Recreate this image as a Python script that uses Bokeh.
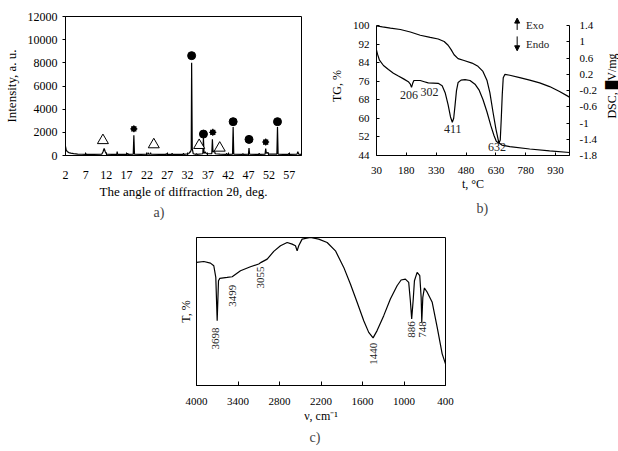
import math
from bokeh.plotting import figure
from bokeh.layouts import column, row
from bokeh.models import (Range1d, LinearAxis, FixedTicker, Title, Arrow,
                          NormalHead, CustomJSTickFormatter)
from bokeh.embed import file_html
from bokeh.resources import INLINE
from bokeh.core.properties import value

FONT = "Liberation Serif"

# ---------------- a) XRD data ----------------
xrd_angle = [2.0, 2.15, 2.4, 2.8, 3.3, 4.0, 5.0, 6.0,
             6.9, 7.0, 7.1, 9.0,
             10.9, 11.2, 11.5, 11.8, 12.1, 13.5,
             14.6, 14.7, 14.8, 17.2, 17.3, 17.4,
             18.65, 18.8, 18.95, 20.5,
             22.2, 22.3, 22.45, 22.8, 22.9, 23.0, 25.0,
             26.7, 26.8, 26.9, 28.1, 28.2, 28.3, 30.9, 31.0, 31.1,
             32.3, 32.5, 32.7, 32.9, 33.0, 33.15, 33.4,
             34.1, 34.2, 34.3,
             35.75, 35.9, 36.05, 36.4, 36.6,
             37.95, 38.1, 38.25, 38.6, 38.8, 40.0,
             41.5, 41.6, 41.7, 43.05, 43.2, 43.35,
             45.5, 45.6, 45.7, 46.95, 47.1, 47.25,
             49.5, 49.6, 49.7, 51.05, 51.2, 51.35, 51.7, 51.9,
             53.95, 54.1, 54.25, 55.5, 56.8, 56.9, 57.0,
             58.9, 59.1, 59.3, 60.0]
xrd_intensity = [780, 520, 350, 250, 200, 160, 120, 110,
                 105, 180, 105, 100,
                 110, 300, 600, 300, 120, 100,
                 105, 330, 105, 100, 200, 100,
                 120, 1750, 120, 100,
                 110, 250, 110, 110, 250, 110, 100,
                 100, 180, 100, 100, 200, 100, 100, 200, 100,
                 150, 300, 300, 500, 8000, 600, 150,
                 100, 180, 100,
                 150, 1500, 200, 300, 150,
                 150, 1400, 300, 400, 150, 120,
                 100, 200, 100, 120, 2450, 120,
                 100, 180, 100, 110, 650, 110,
                 100, 200, 100, 120, 600, 200, 250, 120,
                 120, 2450, 120, 100, 100, 200, 100,
                 120, 330, 120, 100]
circle_angle = [33.0, 35.9, 43.2, 47.1, 54.1]
circle_level = [8620, 1850, 2920, 1390, 2920]
star_angle = [18.8, 38.2, 51.2]
star_level = [2300, 2000, 1160]
tri_angle = [11.2, 23.7, 34.85, 39.9]
tri_level = [1300, 940, 880, 650]
xrd_xticks = [2, 7, 12, 17, 22, 27, 32, 37, 42, 47, 52, 57]
xrd_yticks = [0, 2000, 4000, 6000, 8000, 10000, 12000]

# ---------------- b) TG / DSC data ----------------
tg_temp = [30, 60, 100, 150, 200, 250, 300, 340, 370, 390, 405, 420, 440,
           470, 510, 540, 565, 585, 600, 615, 630, 645, 660, 700, 800, 900, 1000]
tg_mass = [99.9, 99.5, 99.0, 98.4, 97.3, 95.9, 95.0, 94.3, 93.2, 91.6, 89.7,
           87.5, 85.8, 85.0, 83.9, 82.5, 80.3, 76.5, 71.0, 63.0, 55.5, 49.5,
           48.5, 47.8, 46.8, 46.0, 45.3]
dsc_temp = [30, 35, 45, 65, 90, 115, 140, 166, 190, 200, 206, 212, 218, 250,
            270, 290, 340, 360, 375, 390, 402, 411, 418, 425, 432, 440, 455,
            475, 500, 525, 545, 565, 585, 605, 620, 632, 645, 652, 657, 662,
            667, 675, 700, 750, 800, 850, 900, 950, 1000]
dsc_signal = [0.80, 0.70, 0.55, 0.42, 0.32, 0.23, 0.16, 0.09, 0.02, -0.04,
              -0.12, -0.02, 0.05, 0.05, 0.02, -0.01, -0.02, -0.08, -0.25,
              -0.55, -0.85, -0.98, -0.88, -0.55, -0.20, 0.0, 0.06, 0.07, 0.05,
              -0.04, -0.18, -0.42, -0.72, -1.07, -1.30, -1.45, -1.50, -1.42,
              -0.90, -0.30, 0.12, 0.20, 0.18, 0.12, 0.06, -0.01, -0.10, -0.22,
              -0.36]
peak_labels_b = ["206", "302", "411", "632"]
peak_label_t = [193, 296, 413, 636]
peak_label_dsc = [-0.30, -0.23, -1.14, -1.58]
tg_ticks = [44, 52, 60, 68, 76, 84, 92, 100]
dsc_ticks = [-1.8, -1.4, -1.0, -0.6, -0.2, 0.2, 0.6, 1.0, 1.4]
temp_ticks = [30, 180, 330, 480, 630, 780, 930]

# ---------------- c) IR data ----------------
ir_wavenumber = [4000, 3894, 3798, 3750, 3721, 3701, 3682, 3663, 3557, 3484,
                 3364, 3220, 3100, 3065, 2978, 2883, 2786, 2689, 2617, 2569,
                 2545, 2522, 2473, 2353, 2233, 2111, 1991, 1871, 1775, 1678,
                 1582, 1510, 1447, 1389, 1293, 1197, 1100, 1042, 980, 932,
                 908, 889, 868, 849, 810, 772, 752, 743, 728, 705, 663, 592,
                 520, 448, 400]
ir_transmittance = [83.2, 83.8, 82.7, 80.9, 73.0, 43.8, 70.8, 72.4, 73.0, 73.5,
                    77.5, 80.2, 82.1, 83.2, 85.4, 90.6, 94.4, 96.6, 95.5, 94.4,
                    91.0, 94.4, 98.9, 100.0, 98.9, 96.6, 91.0, 79.8, 68.6, 56.2,
                    43.8, 35.9, 32.2, 37.1, 47.2, 58.5, 67.4, 71.3, 71.9, 69.7,
                    57.3, 45.0, 57.3, 70.8, 76.4, 74.2, 59.5, 42.7, 59.5, 65.9,
                    62.9, 56.2, 39.3, 21.4, 14.6]
ir_labels = ["3698", "3499", "3055", "1440", "886", "748"]
ir_label_x = [3725, 3484, 3075, 1447, 893, 738]
ir_label_y = [31.7, 60.7, 73.0, 21.4, 37.8, 37.8]
ir_ticks = [4000, 3400, 2800, 2200, 1600, 1000, 400]


def style_axis(ax, tick_size, label_size, tin=0, tout=0, standoff=5):
    ax.axis_line_color = "black"
    ax.major_tick_line_color = "black"
    ax.minor_tick_line_color = None
    ax.major_tick_in = tin
    ax.major_tick_out = tout
    ax.major_label_standoff = standoff
    ax.major_label_text_font = FONT
    ax.major_label_text_font_size = tick_size
    ax.major_label_text_color = "black"
    ax.axis_label_text_font = FONT
    ax.axis_label_text_font_size = label_size
    ax.axis_label_text_font_style = "normal"
    ax.axis_label_text_color = "black"


def caption(p, text, offset, standoff):
    p.add_layout(Title(text=text, align="left", offset=offset,
                       text_font=FONT, text_font_size="14px",
                       text_font_style="normal", standoff=standoff), "below")


# ---------------- panel a ----------------
pa = figure(width=310, height=220, x_range=Range1d(2, 60), y_range=Range1d(0, 12000),
            output_backend="svg", toolbar_location=None,
            min_border_left=61, min_border_right=9, min_border_top=16, min_border_bottom=63)
pa.grid.visible = False
pa.outline_line_color = "black"
pa.line(xrd_angle, xrd_intensity, color="black", line_width=1.2)
pa.scatter(circle_angle, circle_level, marker="circle", size=8, color="black")
pa.scatter(star_angle, star_level, marker="asterisk", size=7, line_color="black", line_width=1.1)
pa.scatter(star_angle, star_level, marker="circle", size=5, color="black")
pa.scatter(tri_angle, tri_level, marker="triangle", size=11, fill_color="white",
           line_color="black", line_width=1)
pa.xaxis.ticker = FixedTicker(ticks=xrd_xticks)
pa.yaxis.ticker = FixedTicker(ticks=xrd_yticks)
pa.xaxis.axis_label = "The angle of diffraction 2θ, deg."
pa.yaxis.axis_label = "Intensity, a. u."
style_axis(pa.xaxis[0], "12px", "13px", tin=3, tout=0, standoff=15)
style_axis(pa.yaxis[0], "12px", "13px", tin=0, tout=3, standoff=5)
pa.xaxis.axis_label_standoff = 2
pa.yaxis.axis_label_standoff = 6
caption(pa, "a)", 88, 2)

# ---------------- panel b ----------------
pb = figure(width=294, height=220, x_range=Range1d(30, 1000), y_range=Range1d(44, 104),
            output_backend="svg", toolbar_location=None,
            min_border_left=66, min_border_right=35, min_border_top=0, min_border_bottom=65)
pb.grid.visible = False
pb.outline_line_color = None
pb.extra_y_ranges = {"dsc": Range1d(-1.8, 1.4 + 4 * 3.2 / 56)}
pb.line(tg_temp, tg_mass, color="black", line_width=1.2)
pb.line(dsc_temp, dsc_signal, color="black", line_width=1.2, y_range_name="dsc")
pb.text(x=peak_label_t, y=peak_label_dsc, text=peak_labels_b, y_range_name="dsc",
        text_font=value(FONT), text_font_size="12px", text_align="center",
        text_baseline="middle", text_color="#222222")
pb.xaxis.ticker = FixedTicker(ticks=temp_ticks)
pb.yaxis.ticker = FixedTicker(ticks=tg_ticks)
pb.yaxis.bounds = (44, 100)
pb.xaxis.axis_label = "t, °C"
pb.yaxis.axis_label = "TG, %"
style_axis(pb.xaxis[0], "11px", "12px", tin=3, standoff=11)
style_axis(pb.yaxis[0], "11px", "12px", tin=3, standoff=7)
pb.xaxis.axis_label_standoff = 0
pb.yaxis.axis_label_standoff = 6
dsc_axis = LinearAxis(y_range_name="dsc", ticker=FixedTicker(ticks=dsc_ticks),
                      bounds=(-1.8, 1.4),
                      formatter=CustomJSTickFormatter(code="return tick.toFixed(1).replace(/\\.0$/, '');"))
style_axis(dsc_axis, "11px", "12px", tin=3, standoff=10)
pb.add_layout(dsc_axis, "right")
# Exo / Endo marks
pb.add_layout(Arrow(end=NormalHead(size=5, fill_color="black", line_color="black"),
                    x_start=737, y_start=98.2, x_end=737, y_end=103.3,
                    line_width=1, line_color="black"))
pb.add_layout(Arrow(end=NormalHead(size=5, fill_color="black", line_color="black"),
                    x_start=737, y_start=95.4, x_end=737, y_end=89.2,
                    line_width=1, line_color="black"))
pb.text(x=[782, 782], y=[100.4, 92.0], text=["Exo", "Endo"], text_font=value(FONT),
        text_font_size="11px", text_align="left", text_baseline="middle", text_color="#222222")
caption(pb, "b)", 100, 10)

# narrow strip carrying the DSC axis title (reads bottom to top)
pd = figure(width=14, height=220, x_range=Range1d(0, 1), y_range=Range1d(-1.8, 1.4),
            output_backend="svg", toolbar_location=None,
            min_border_left=13, min_border_right=0, min_border_top=0, min_border_bottom=64)
pd.grid.visible = False
pd.outline_line_color = None
pd.xaxis.visible = False
pd.yaxis.ticker = FixedTicker(ticks=[])
pd.yaxis.axis_label = "DSC, █V/mg"
style_axis(pd.yaxis[0], "11px", "12px", standoff=0)
pd.yaxis.axis_line_color = None
pd.yaxis.axis_label_standoff = 0

# ---------------- panel c ----------------
pc = figure(width=618, height=231, x_range=Range1d(4000, 400), y_range=Range1d(0, 100),
            output_backend="svg", toolbar_location=None,
            min_border_left=196, min_border_right=173, min_border_top=17, min_border_bottom=66)
pc.grid.visible = False
pc.outline_line_color = "black"
pc.line(ir_wavenumber, ir_transmittance, color="black", line_width=1.2)
pc.text(x=ir_label_x, y=ir_label_y, text=ir_labels, angle=math.pi / 2,
        text_font=value(FONT), text_font_size="11px", text_align="center",
        text_baseline="middle", text_color="#222222")
pc.xaxis.ticker = FixedTicker(ticks=ir_ticks)
pc.yaxis.ticker = FixedTicker(ticks=[])
pc.xaxis.axis_label = "ν, cm⁻¹"
pc.yaxis.axis_label = "T, %"
style_axis(pc.xaxis[0], "11px", "12px", tin=4, standoff=12)
style_axis(pc.yaxis[0], "11px", "12px")
pc.xaxis.axis_label_standoff = 1
pc.yaxis.axis_label_standoff = 4
caption(pc, "c)", 113, 4)

layout = column(row(pa, pb, pd), pc)
open("out.html", "w").write(file_html(layout, INLINE))
